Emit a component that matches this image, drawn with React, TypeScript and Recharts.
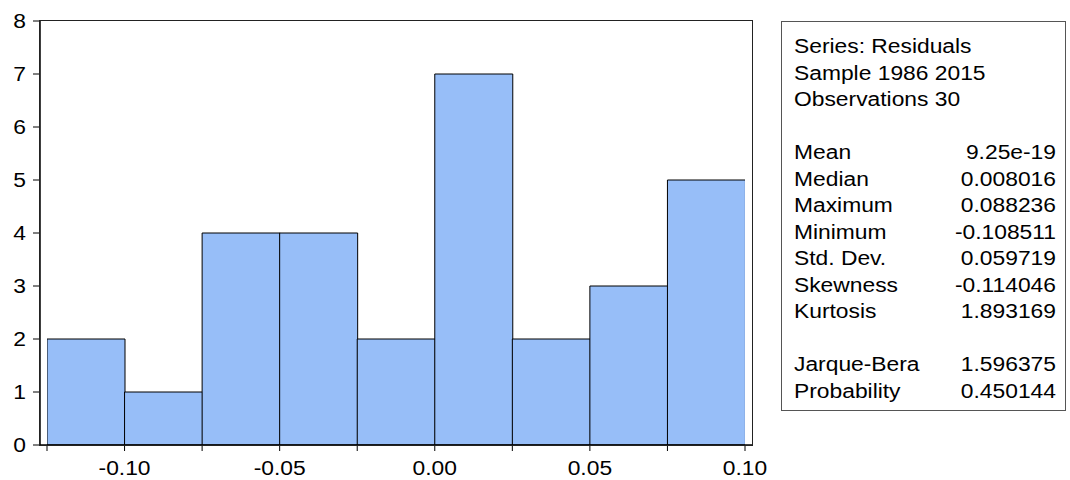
import { ComposedChart, Bar, Cell, XAxis, YAxis } from 'recharts';

// histogram bins (lower edge of each bin) and counts
const binStarts = [-0.125, -0.1, -0.075, -0.05, -0.025, 0, 0.025, 0.05, 0.075];
const binWidth = 0.025;
const counts = [2, 1, 4, 4, 2, 7, 2, 3, 5];
const xTicks = [-0.125, -0.1, -0.075, -0.05, -0.025, 0, 0.025, 0.05, 0.075, 0.1];
const xLabels = ['', '-0.10', '', '-0.05', '', '0.00', '', '0.05', '', '0.10'];
const yTicks = [0, 1, 2, 3, 4, 5, 6, 7, 8];

const statNames = ['Mean', 'Median', 'Maximum', 'Minimum', 'Std. Dev.', 'Skewness', 'Kurtosis'];
const statValues = ['9.25e-19', '0.008016', '0.088236', '-0.108511', '0.059719', '-0.114046', '1.893169'];
const testNames = ['Jarque-Bera', 'Probability'];
const testValues = ['1.596375', '0.450144'];

const FONT = "Arial, 'Liberation Sans', sans-serif";
const BAR = '#97BEF8';
const SX = 1.17;

const data = binStarts.map((b, i) => ({ mid: b + binWidth / 2, count: counts[i] }));

// tick labels are a bit wide in the original, so stretch them horizontally
const XTick = ({ x, y, payload }: any) => {
  const label = xLabels[xTicks.indexOf(payload.value)] ?? '';
  if (!label) return null;
  return (
    <g transform={`translate(${x},${y})`}>
      <text transform={`scale(${SX},1)`} textAnchor="middle" dy="0.71em" fontSize={19.5} fontFamily={FONT} fill="#000">
        {label}
      </text>
    </g>
  );
};

const YTick = ({ x, y, payload }: any) => (
  <g transform={`translate(${x},${y})`}>
    <text transform={`scale(${SX},1)`} textAnchor="end" dy="0.355em" fontSize={19.5} fontFamily={FONT} fill="#000">
      {payload.value}
    </text>
  </g>
);

const StatsBox = () => {
  const row = (name: string, val: string) => (
    <div key={name} style={{ display: 'flex', justifyContent: 'space-between', height: 26.5 }}>
      <span>{name}</span>
      <span>{val}</span>
    </div>
  );
  return (
    <div
      style={{
        position: 'absolute',
        left: 781,
        top: 21,
        width: 285,
        height: 390,
        boxSizing: 'border-box',
        border: '1px solid #555',
        background: '#fff',
      }}
    >
      <div
        style={{
          position: 'absolute',
          left: 12,
          top: 11,
          width: 262 / SX,
          transform: `scaleX(${SX})`,
          transformOrigin: 'left top',
          fontFamily: FONT,
          fontSize: 19.5,
          lineHeight: '26.5px',
          color: '#000',
        }}
      >
        <div>Series: Residuals</div>
        <div>Sample 1986 2015</div>
        <div>Observations 30</div>
        <div style={{ height: 26.5 }} />
        {statNames.map((n, i) => row(n, statValues[i]))}
        <div style={{ height: 26.5 }} />
        {testNames.map((n, i) => row(n, testValues[i]))}
      </div>
    </div>
  );
};

export default function App() {
  return (
    <div style={{ position: 'absolute', left: 0, top: 0, width: 1070, height: 480, background: '#fff' }}>
      <ComposedChart
        width={780}
        height={480}
        data={data}
        barCategoryGap={0}
        barGap={0}
        margin={{ top: 21, right: 28, bottom: 0, left: 0 }}
        style={{ position: 'absolute', left: 0, top: 0 }}
      >
        <XAxis
          dataKey="mid"
          type="number"
          domain={[-0.125, 0.1]}
          allowDataOverflow
          ticks={xTicks}
          padding={{ left: 7, right: 7 }}
          height={35}
          interval={0}
          tickSize={6}
          tickMargin={10}
          tick={<XTick />}
          axisLine={{ stroke: '#000', strokeWidth: 1.5 }}
          tickLine={{ stroke: '#000' }}
        />
        <YAxis
          domain={[0, 8]}
          ticks={yTicks}
          interval={0}
          width={40}
          tickSize={7}
          tickMargin={7}
          tick={<YTick />}
          axisLine={{ stroke: '#000', strokeWidth: 1.5 }}
          tickLine={{ stroke: '#000' }}
        />
        <Bar dataKey="count" isAnimationActive={false} stroke="#000" strokeWidth={1}>
          {data.map((d) => (
            <Cell key={d.mid} fill={BAR} />
          ))}
        </Bar>
      </ComposedChart>
      {/* plot frame */}
      <div
        style={{
          position: 'absolute',
          left: 39,
          top: 20,
          width: 714,
          height: 426,
          boxSizing: 'border-box',
          border: '1.5px solid #222',
          pointerEvents: 'none',
        }}
      />
      <StatsBox />
    </div>
  );
}
